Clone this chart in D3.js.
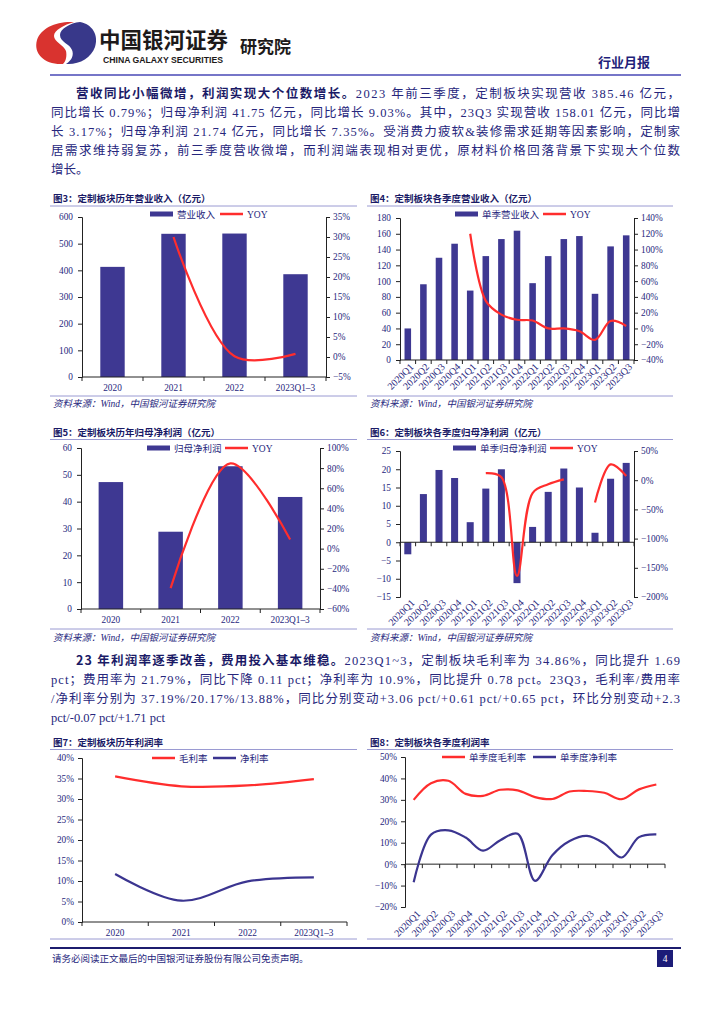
<!DOCTYPE html>
<html>
<head>
<meta charset="utf-8">
<script src="https://cdn.jsdelivr.net/npm/d3@7"></script>
<style>body{margin:0;background:#fff}</style>
</head>
<body>
<div id="page"></div>
<script>
// 카테고리
const yearCats = ["2020", "2021", "2022", "2023Q1–3"];
const quarterCats = ["2020Q1", "2020Q2", "2020Q3", "2020Q4", "2021Q1", "2021Q2", "2021Q3", "2021Q4",
  "2022Q1", "2022Q2", "2022Q3", "2022Q4", "2023Q1", "2023Q2", "2023Q3"];

// 图3 / 图4 营业收入
const revenueYear = [413, 537, 538, 385.46];
const revenueYearYoy = [null, 30.0, 0.2, 0.79];
const revenueQ = [40, 96, 129.6, 147.4, 88, 131.7, 153.3, 163.9, 97.4, 131.7, 153.3, 157.1, 83.9, 144, 158.01];
const revenueQYoy = [null, null, null, null, 120, 35, 17.5, 11, 10, 0, 0, -3.5, -14.5, 9.5, 3.17];

// 图5 / 图6 归母净利润
const profitYear = [47.3, 28.8, 53.2, 41.75];
const profitYearYoy = [null, -39.3, 84.7, 9.03];
const profitQ = [-3.3, 13.2, 19.8, 17.6, 5.5, 14.7, 20.0, -11.2, 4.2, 13.8, 20.2, 15.0, 2.6, 17.4, 21.74];
const profitQYoy = [null, null, null, null, null, 12, 5, -164, -22, -7, 1.5, null, -38, 27, 7.35];

// 图7 / 图8 利润率
const grossYear = [35.5, 33.1, 33.3, 34.86];
const netYear = [11.7, 5.2, 9.9, 10.9];
const grossQ = [30, 37.8, 38.9, 32.8, 31.9, 34.7, 34.4, 31.3, 30.4, 33.9, 34.13, 33.3, 30.3, 34.89, 37.19];
const netQ = [-8.5, 13.8, 15.8, 12.4, 6.3, 11.2, 14.2, -7.8, 4.2, 10.8, 13.2, 9.6, 3.1, 12.6, 13.88];

// 본문
const para1 = [
  [["营收同比小幅微增，利润实现大个位数增长。", true], ["2023 年前三季度，定制板块实现营收 385.46 亿元，", false]],
  [["同比增长 0.79%；归母净利润 41.75 亿元，同比增长 9.03%。其中，23Q3 实现营收 158.01 亿元，同比增", false]],
  [["长 3.17%；归母净利润 21.74 亿元，同比增长 7.35%。受消费力疲软&装修需求延期等因素影响，定制家", false]],
  [["居需求维持弱复苏，前三季度营收微增，而利润端表现相对更优，原材料价格回落背景下实现大个位数", false]],
  [["增长。", false]]
];
const para2 = [
  [["23 年利润率逐季改善，费用投入基本维稳。", true], ["2023Q1~3，定制板块毛利率为 34.86%，同比提升 1.69", false]],
  [["pct；费用率为 21.79%，同比下降 0.11 pct；净利率为 10.9%，同比提升 0.78 pct。23Q3，毛利率/费用率", false]],
  [["/净利率分别为 37.19%/20.17%/13.88%，同比分别变动+3.06 pct/+0.61 pct/+0.65 pct，环比分别变动+2.3", false]],
  [["pct/-0.07 pct/+1.71 pct", false]]
];

const NAVY = "#26267c", DARK = "#1a1a66", BAR = "#3e3892", RED = "#ff2d2d", NETC = "#3b3590", RULE = "#9a9ad2";
const BODY = "'Liberation Serif','Noto Sans CJK SC',serif";
const HEI = "'Noto Sans CJK SC',sans-serif";

const svg = d3.select("#page").append("svg")
  .attr("width", 724).attr("height", 1024).style("display", "block");
svg.append("rect").attr("width", 724).attr("height", 1024).attr("fill", "#fff");

// 헤더
svg.append("path")
  .attr("d", "M63 64C45 65 33 54 37 40C41 28 56 21 74 22C64 25 54 30 54 36C54 42 64 45 66 51C67 56 66 61 63 64Z")
  .attr("fill", "#d9332f");
svg.append("path")
  .attr("d", "M80 22C92 24 99 35 95 47C91 58 79 65 66 64C72 60 74 55 72 50C70 44 60 42 60 35C60 29 70 23 80 22Z")
  .attr("fill", "#38388a");
svg.append("text").attr("x", 99).attr("y", 47.5).attr("font-family", HEI).attr("font-weight", 700)
  .attr("font-size", 21.5).attr("fill", "#1d1a1a").text("中国银河证券");
svg.append("text").attr("x", 103).attr("y", 62.5).attr("font-family", "'Liberation Sans',Arial,sans-serif")
  .attr("font-weight", 700).attr("font-size", 8.3).attr("fill", "#1d1a1a")
  .attr("textLength", 120).attr("lengthAdjust", "spacingAndGlyphs").text("CHINA GALAXY SECURITIES");
svg.append("text").attr("x", 240).attr("y", 53).attr("font-family", HEI).attr("font-weight", 700)
  .attr("font-size", 17).attr("fill", "#1d1a1a").text("研究院");
svg.append("text").attr("x", 598).attr("y", 67).attr("font-family", HEI).attr("font-weight", 700)
  .attr("font-size", 13).attr("fill", "#1f1f7a").text("行业月报");
svg.append("line").attr("x1", 50).attr("x2", 681).attr("y1", 75).attr("y2", 75)
  .attr("stroke", "#7676c8").attr("stroke-width", 2);

// 본문 그리기
function drawPara(lines, y0, step) {
  lines.forEach((parts, i) => {
    const last = i === lines.length - 1;
    const x = i === 0 ? 76 : 51;
    const t = svg.append("text").attr("x", x).attr("y", y0 + i * step)
      .attr("font-family", BODY).attr("font-size", 12.5).attr("fill", NAVY);
    if (!last) t.attr("textLength", 680 - x).attr("lengthAdjust", "spacing");
    parts.forEach(([s, b]) => t.append("tspan")
      .attr("font-family", b ? HEI : BODY)
      .attr("font-weight", b ? 700 : 400).attr("fill", b ? DARK : NAVY).text(s));
  });
}
drawPara(para1, 98, 19);
drawPara(para2, 664.5, 19.2);

const pct = v => (v < 0 ? "−" + Math.abs(v) : v) + "%";
const num = v => (v < 0 ? "−" + Math.abs(v) : v);

function frame(o) {
  svg.append("text").attr("x", o.colL + 3).attr("y", o.titleY).attr("font-family", HEI).attr("font-weight", 700)
    .attr("font-size", 9.5).attr("fill", DARK).text(o.title);
  svg.append("line").attr("x1", o.colL).attr("x2", o.colR).attr("y1", o.ruleTop).attr("y2", o.ruleTop)
    .attr("stroke", RULE).attr("stroke-width", 1);
  svg.append("line").attr("x1", o.colL).attr("x2", o.colR).attr("y1", o.ruleBot).attr("y2", o.ruleBot)
    .attr("stroke", RULE).attr("stroke-width", 1);
  if (o.sourceY) {
    svg.append("text").attr("x", o.colL + 3).attr("y", o.sourceY).attr("font-family", BODY)
      .attr("font-style", "italic").attr("font-size", 9.5).attr("fill", NAVY)
      .text("资料来源：Wind，中国银河证券研究院");
  }
}

function styleAxis(g) {
  g.attr("font-family", BODY).attr("font-size", 9.3);
  g.select(".domain").attr("stroke", "#222");
  g.selectAll(".tick line").attr("stroke", "#222");
  g.selectAll(".tick text").attr("fill", NAVY);
}

function legend(items, y) {
  items.forEach(it => {
    if (it.type === "bar") {
      svg.append("rect").attr("x", it.x).attr("y", y - 2.5).attr("width", 23).attr("height", 5).attr("fill", it.color);
    } else {
      svg.append("line").attr("x1", it.x).attr("x2", it.x + 23).attr("y1", y).attr("y2", y)
        .attr("stroke", it.color).attr("stroke-width", 2.5);
    }
    svg.append("text").attr("x", it.x + 27).attr("y", y + 3.5).attr("font-family", BODY)
      .attr("font-size", 9.5).attr("fill", NAVY).text(it.label);
  });
}

function xAxis(g, xb, cats, o, y0) {
  g.append("line").attr("x1", o.left).attr("x2", o.right).attr("y1", y0).attr("y2", y0).attr("stroke", "#222");
  const bounds = cats.map(c => xb(c)).concat([o.right]);
  g.selectAll(null).data(bounds).join("line")
    .attr("x1", d => d).attr("x2", d => d).attr("y1", y0).attr("y2", y0 + 4).attr("stroke", "#222");
  const cx = c => xb(c) + xb.bandwidth() / 2;
  if (o.rotate) {
    g.selectAll(null).data(cats).join("text")
      .attr("transform", c => `translate(${cx(c) + o.labDx},${o.labelY}) rotate(-45)`)
      .attr("text-anchor", "end").attr("dy", "0.35em")
      .attr("font-family", BODY).attr("font-size", 10).attr("fill", NAVY).text(c => c);
  } else {
    g.selectAll(null).data(cats).join("text")
      .attr("x", cx).attr("y", o.labelY).attr("text-anchor", "middle")
      .attr("font-family", BODY).attr("font-size", 9.3).attr("fill", NAVY).text(c => c);
  }
}

// 막대 + 선 복합 그래프
function comboChart(o) {
  frame(o);
  const g = svg.append("g");
  const xb = d3.scaleBand().domain(o.cats).range([o.left, o.right]).padding(0);
  const yL = d3.scaleLinear().domain(o.yL).range([o.bottom, o.top]);
  const yR = d3.scaleLinear().domain(o.yR).range([o.bottom, o.top]);
  const bw = xb.bandwidth() * o.barRatio;

  g.selectAll(null).data(o.bars).join("rect")
    .attr("x", (d, i) => xb(o.cats[i]) + (xb.bandwidth() - bw) / 2)
    .attr("y", d => yL(Math.max(0, d)))
    .attr("width", bw)
    .attr("height", d => Math.abs(yL(d) - yL(0)))
    .attr("fill", BAR);

  g.append("g").attr("transform", `translate(${o.left},0)`)
    .call(d3.axisLeft(yL).tickValues(o.yLTicks).tickSize(4).tickPadding(5).tickFormat(num))
    .call(styleAxis);
  g.append("g").attr("transform", `translate(${o.right},0)`)
    .call(d3.axisRight(yR).tickValues(o.yRTicks).tickSize(4).tickPadding(3).tickFormat(pct))
    .call(styleAxis);

  xAxis(g, xb, o.cats, o, yL(0));

  const pts = o.line.map((v, i) => ({ c: o.cats[i], v }));
  g.append("path").datum(pts)
    .attr("fill", "none").attr("stroke", RED).attr("stroke-width", 2.2)
    .attr("d", d3.line().defined(d => d.v != null)
      .x(d => xb(d.c) + xb.bandwidth() / 2).y(d => yR(d.v)).curve(d3.curveCatmullRom));

  legend([{ type: "bar", x: o.legX[0], label: o.barName, color: BAR },
          { type: "line", x: o.legX[1], label: "YOY", color: RED }], o.legendY);
}

// 선 그래프
function lineChart(o) {
  frame(o);
  const g = svg.append("g");
  const xb = d3.scaleBand().domain(o.cats).range([o.left, o.right]).padding(0);
  const y = d3.scaleLinear().domain(o.yDomain).range([o.bottom, o.top]);

  g.append("g").attr("transform", `translate(${o.left},0)`)
    .call(d3.axisLeft(y).tickValues(o.yTicks).tickSize(4).tickPadding(4).tickFormat(pct))
    .call(styleAxis);
  xAxis(g, xb, o.cats, o, y(0));

  o.series.forEach(s => {
    const pts = s.values.map((v, i) => ({ c: o.cats[i], v }));
    g.append("path").datum(pts)
      .attr("fill", "none").attr("stroke", s.color).attr("stroke-width", 2.2)
      .attr("d", d3.line().x(d => xb(d.c) + xb.bandwidth() / 2).y(d => y(d.v)).curve(d3.curveCatmullRom));
  });

  legend(o.series.map((s, i) => ({ type: "line", x: o.legX[i], label: s.name, color: s.color })), o.legendY);
}

comboChart({
  colL: 50, colR: 357, titleY: 201.5, title: "图3：定制板块历年营业收入（亿元）",
  ruleTop: 206, ruleBot: 396, sourceY: 406.5,
  left: 82, right: 326, top: 217, bottom: 377,
  cats: yearCats, bars: revenueYear, line: revenueYearYoy, barRatio: 0.4,
  yL: [0, 600], yLTicks: d3.range(0, 601, 100), yR: [-5, 35], yRTicks: d3.range(-5, 36, 5),
  barName: "营业收入", legX: [150, 220], legendY: 214, rotate: false, labelY: 390.5
});

comboChart({
  colL: 367, colR: 673, titleY: 201.5, title: "图4：定制板块各季度营业收入（亿元）",
  ruleTop: 206, ruleBot: 396, sourceY: 406.5,
  left: 400, right: 634, top: 218, bottom: 360,
  cats: quarterCats, bars: revenueQ, line: revenueQYoy, barRatio: 0.42,
  yL: [0, 180], yLTicks: d3.range(0, 181, 20), yR: [-40, 140], yRTicks: d3.range(-40, 141, 20),
  barName: "单季营业收入", legX: [455, 543], legendY: 214, rotate: true, labelY: 365, labDx: 4
});

comboChart({
  colL: 50, colR: 357, titleY: 436, title: "图5：定制板块历年归母净利润（亿元）",
  ruleTop: 439.5, ruleBot: 629, sourceY: 640.5,
  left: 81, right: 320, top: 448, bottom: 609,
  cats: yearCats, bars: profitYear, line: profitYearYoy, barRatio: 0.41,
  yL: [0, 60], yLTicks: d3.range(0, 61, 10), yR: [-60, 100], yRTicks: d3.range(-60, 101, 20),
  barName: "归母净利润", legX: [147, 225], legendY: 448, rotate: false, labelY: 622.5
});

comboChart({
  colL: 367, colR: 673, titleY: 436, title: "图6：定制板块各季度归母净利润（亿元）",
  ruleTop: 439.5, ruleBot: 629, sourceY: 640.5,
  left: 400, right: 634, top: 451, bottom: 597,
  cats: quarterCats, bars: profitQ, line: profitQYoy, barRatio: 0.45,
  yL: [-15, 25], yLTicks: d3.range(-15, 26, 5), yR: [-200, 50], yRTicks: d3.range(-200, 51, 50),
  barName: "单季归母净利润", legX: [453, 550], legendY: 448, rotate: true, labelY: 601, labDx: 5
});

lineChart({
  colL: 50, colR: 357, titleY: 745.5, title: "图7：定制板块历年利润率",
  ruleTop: 749.5, ruleBot: 939,
  left: 82, right: 347, top: 758, bottom: 922,
  cats: yearCats, yDomain: [0, 40], yTicks: d3.range(0, 41, 5),
  series: [{ name: "毛利率", values: grossYear, color: RED }, { name: "净利率", values: netYear, color: NETC }],
  legX: [152, 213], legendY: 758, rotate: false, labelY: 935.5
});

lineChart({
  colL: 367, colR: 673, titleY: 745.5, title: "图8：定制板块各季度利润率",
  ruleTop: 749.5, ruleBot: 939,
  left: 405, right: 665, top: 757, bottom: 907,
  cats: quarterCats, yDomain: [-20, 50], yTicks: d3.range(-20, 51, 10),
  series: [{ name: "单季度毛利率", values: grossQ, color: RED }, { name: "单季度净利率", values: netQ, color: NETC }],
  legX: [442, 533], legendY: 757, rotate: true, labelY: 912, labDx: 5
});

// 하단
svg.append("line").attr("x1", 50).attr("x2", 681).attr("y1", 948).attr("y2", 948)
  .attr("stroke", "#1c1c6e").attr("stroke-width", 2);
svg.append("text").attr("x", 52).attr("y", 962).attr("font-family", BODY).attr("font-size", 9.5)
  .attr("fill", NAVY).text("请务必阅读正文最后的中国银河证券股份有限公司免责声明。");
svg.append("rect").attr("x", 657).attr("y", 950).attr("width", 16).attr("height", 17).attr("fill", "#1c1c78");
svg.append("text").attr("x", 665).attr("y", 962).attr("text-anchor", "middle").attr("font-family", BODY)
  .attr("font-size", 9.5).attr("fill", "#fff").text("4");
</script>
</body>
</html>
